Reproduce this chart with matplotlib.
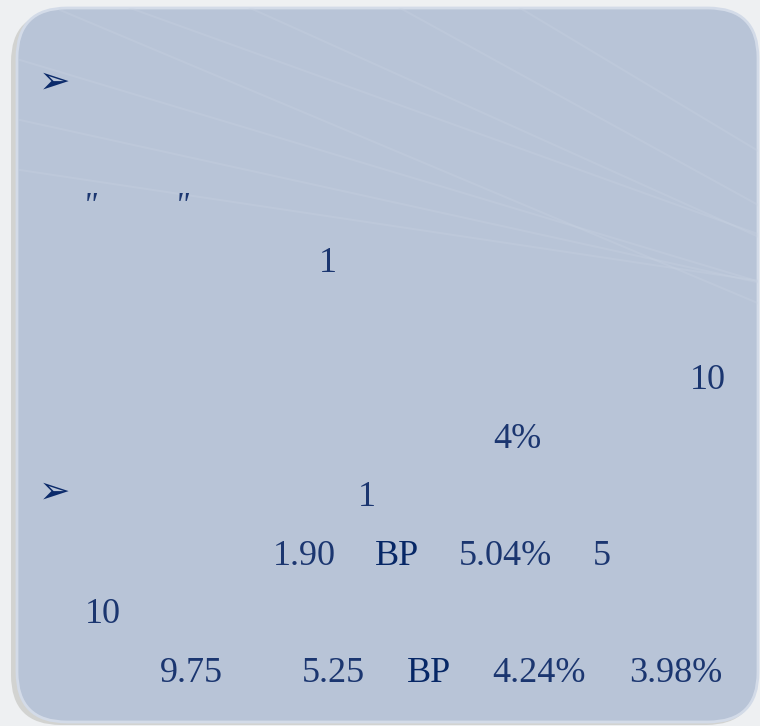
import matplotlib.pyplot as plt
from matplotlib.patches import FancyBboxPatch
import numpy as np

# text fragments on the slide (label, left x, baseline y in pixels)
labels = ["1", "10", "4%", "1", "1.90", "BP", "5.04%", "5",
          "10", "9.75", "5.25", "BP", "4.24%", "3.98%"]
label_x = [319, 690, 493, 358, 273, 375, 459, 593, 85, 160, 302, 407, 492, 629]
label_y = [272, 389, 448, 506, 565, 565, 565, 565, 623, 682, 682, 682, 682, 682]

bullet_x = [39, 39]
bullet_y = [93, 503]

quote_x = [83, 175]
quote_y = [215, 215]

W, H = 760, 726
fig = plt.figure(figsize=(W / 100, H / 100), dpi=100)
fig.patch.set_facecolor('#eef0f2')
ax = fig.add_axes([0, 0, 1, 1])
ax.set_xlim(0, W)
ax.set_ylim(H, 0)
ax.axis('off')

# shadow and panel
shadow = FancyBboxPatch((11, 12), 745, 713, boxstyle="round,pad=0,rounding_size=50",
                        fc='#cbccc9', ec='none', alpha=0.8, zorder=1)
ax.add_patch(shadow)
panel = FancyBboxPatch((17, 8), 741, 714, boxstyle="round,pad=0,rounding_size=50",
                       fc='#b8c4d7', ec='#d3dbe8', lw=2, zorder=2)
ax.add_patch(panel)

# faint light streaks over the upper part of the panel
for x0, y0, slope in [(60, 10, 0.42), (130, 8, 0.36), (250, 8, 0.45), (400, 8, 0.55),
                      (520, 8, 0.6), (20, 60, 0.3), (20, 120, 0.22), (20, 170, 0.15)]:
    xs = np.array([x0, 758])
    line, = ax.plot(xs, y0 + slope * (xs - x0), color='#c9d3e2', lw=1.5,
                    alpha=0.3, zorder=3)
    line.set_clip_path(panel)

serif = ['Liberation Serif', 'DejaVu Serif']
for t, x, y in zip(labels, label_x, label_y):
    col = '#062766' if t == 'BP' else '#1b3670'
    ax.text(x, y, t, fontsize=26, family=serif, color=col,
            ha='left', va='baseline', zorder=5)

for x, y in zip(bullet_x, bullet_y):
    ax.text(x, y, '\u27a2', fontsize=27, family=['DejaVu Sans'], color='#0b2a6a',
            ha='left', va='baseline', zorder=5)

for x, y in zip(quote_x, quote_y):
    ax.text(x, y, '"', fontsize=24, family=serif, style='italic', color='#1b3670',
            ha='left', va='baseline', zorder=5)

fig.savefig('out.png', dpi=100, facecolor=fig.get_facecolor())
